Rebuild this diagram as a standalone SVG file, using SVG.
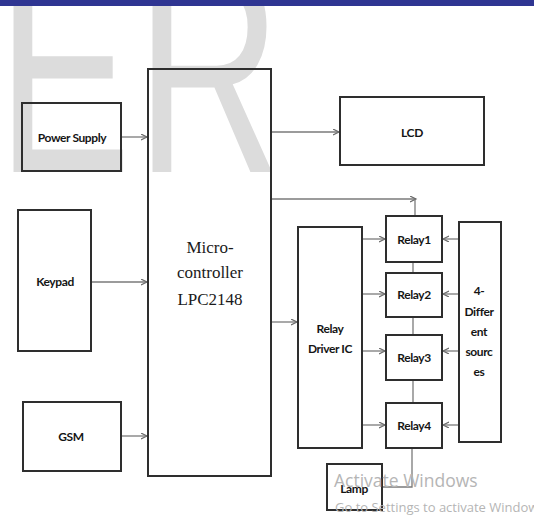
<svg xmlns="http://www.w3.org/2000/svg" width="534" height="519" viewBox="0 0 534 519">
<style>
.box{fill:none;stroke:#2e2e2e;stroke-width:2}
.lbl{font-family:Lato,"Open Sans","Liberation Sans",sans-serif;font-weight:bold;font-size:12px;fill:#151515;text-anchor:middle;letter-spacing:-0.4px}
.mc{font-family:"Liberation Serif","Times New Roman",serif;font-size:17px;fill:#1a1a1a;text-anchor:middle}
.conn{fill:none;stroke:#7a7a7a;stroke-width:1.3}
.wm{font-family:"Liberation Sans",Arial,sans-serif;font-size:296px;fill:#dcdcdc}
.act{font-family:"Open Sans","Noto Sans",sans-serif;fill:#b5b5b5}
</style>
<defs>
<marker id="arr" markerWidth="8" markerHeight="8" refX="6" refY="3" orient="auto" markerUnits="userSpaceOnUse">
<path d="M0,0 L6,3 L0,6" fill="none" stroke="#6a6a6a" stroke-width="1.2"/>
</marker>
</defs>
<rect width="534" height="519" fill="#ffffff"/>
<g id="watermark">
<text class="wm" transform="translate(-3,172) scale(0.68,1)">E</text>
<text class="wm" transform="translate(136,172) scale(0.68,1)">R</text>
</g>
<rect x="0" y="0" width="534" height="6" fill="#2f3592"/>
<g id="connectors">
<line class="conn" x1="121" y1="137" x2="147" y2="137" marker-end="url(#arr)"/>
<line class="conn" x1="91" y1="282" x2="147" y2="282" marker-end="url(#arr)"/>
<line class="conn" x1="121" y1="436" x2="147" y2="436" marker-end="url(#arr)"/>
<line class="conn" x1="271" y1="132" x2="339" y2="132" marker-end="url(#arr)"/>
<line class="conn" x1="271" y1="199" x2="416" y2="199" marker-end="url(#arr)"/>
<line class="conn" x1="415" y1="216" x2="415" y2="199"/>
<line class="conn" x1="271" y1="322" x2="297" y2="322" marker-end="url(#arr)"/>
<line class="conn" x1="362" y1="239" x2="385" y2="239" marker-end="url(#arr)"/>
<line class="conn" x1="362" y1="294" x2="385" y2="294" marker-end="url(#arr)"/>
<line class="conn" x1="362" y1="351" x2="385" y2="351" marker-end="url(#arr)"/>
<line class="conn" x1="362" y1="425" x2="385" y2="425" marker-end="url(#arr)"/>
<line class="conn" x1="459" y1="239" x2="443" y2="239" marker-end="url(#arr)"/>
<line class="conn" x1="459" y1="294" x2="443" y2="294" marker-end="url(#arr)"/>
<line class="conn" x1="459" y1="351" x2="443" y2="351" marker-end="url(#arr)"/>
<line class="conn" x1="459" y1="425" x2="443" y2="425" marker-end="url(#arr)"/>
<line class="conn" x1="413" y1="262" x2="413" y2="273"/>
<line class="conn" x1="413" y1="317" x2="413" y2="335"/>
<line class="conn" x1="413" y1="380" x2="413" y2="403"/>
<polyline class="conn" points="412,448 412,487 382,487"/>
</g>
<g id="power-supply">
<rect class="box" x="22" y="103" width="99" height="68"/>
<text class="lbl" x="72" y="142">Power Supply</text>
</g>
<g id="keypad">
<rect class="box" x="18" y="210" width="73" height="141"/>
<text class="lbl" x="55" y="286">Keypad</text>
</g>
<g id="gsm">
<rect class="box" x="23" y="402" width="98" height="69"/>
<text class="lbl" x="71" y="441">GSM</text>
</g>
<g id="microcontroller">
<rect class="box" x="148" y="69" width="123" height="407"/>
<text class="mc" x="210" y="253">Micro-</text>
<text class="mc" x="210" y="278">controller</text>
<text class="mc" x="210" y="305">LPC2148</text>
</g>
<g id="lcd">
<rect class="box" x="340" y="97" width="144" height="68"/>
<text class="lbl" x="412" y="137">LCD</text>
</g>
<g id="relay-driver">
<rect class="box" x="298" y="227" width="64" height="221"/>
<text class="lbl" x="330" y="333">Relay</text>
<text class="lbl" x="330" y="353">Driver IC</text>
</g>
<g id="relay1">
<rect class="box" x="386" y="216" width="56" height="46"/>
<text class="lbl" x="414" y="244">Relay1</text>
</g>
<g id="relay2">
<rect class="box" x="386" y="273" width="56" height="44"/>
<text class="lbl" x="414" y="299">Relay2</text>
</g>
<g id="relay3">
<rect class="box" x="386" y="335" width="56" height="45"/>
<text class="lbl" x="414" y="362">Relay3</text>
</g>
<g id="relay4">
<rect class="box" x="386" y="403" width="56" height="45"/>
<text class="lbl" x="414" y="430">Relay4</text>
</g>
<g id="sources">
<rect class="box" x="459" y="222" width="42" height="220"/>
<text class="lbl" x="479" y="295">4-</text>
<text class="lbl" x="479" y="316">Differ</text>
<text class="lbl" x="479" y="336">ent</text>
<text class="lbl" x="479" y="356">sourc</text>
<text class="lbl" x="479" y="376">es</text>
</g>
<g id="lamp">
<rect class="box" x="327" y="464" width="55" height="46"/>
<text class="lbl" x="354" y="493">Lamp</text>
</g>
<g id="activate-windows">
<text class="act" x="334" y="487" font-size="17.5">Activate Windows</text>
<text class="act" x="335" y="512" font-size="13">Go to Settings to activate Windows.</text>
</g>
</svg>
